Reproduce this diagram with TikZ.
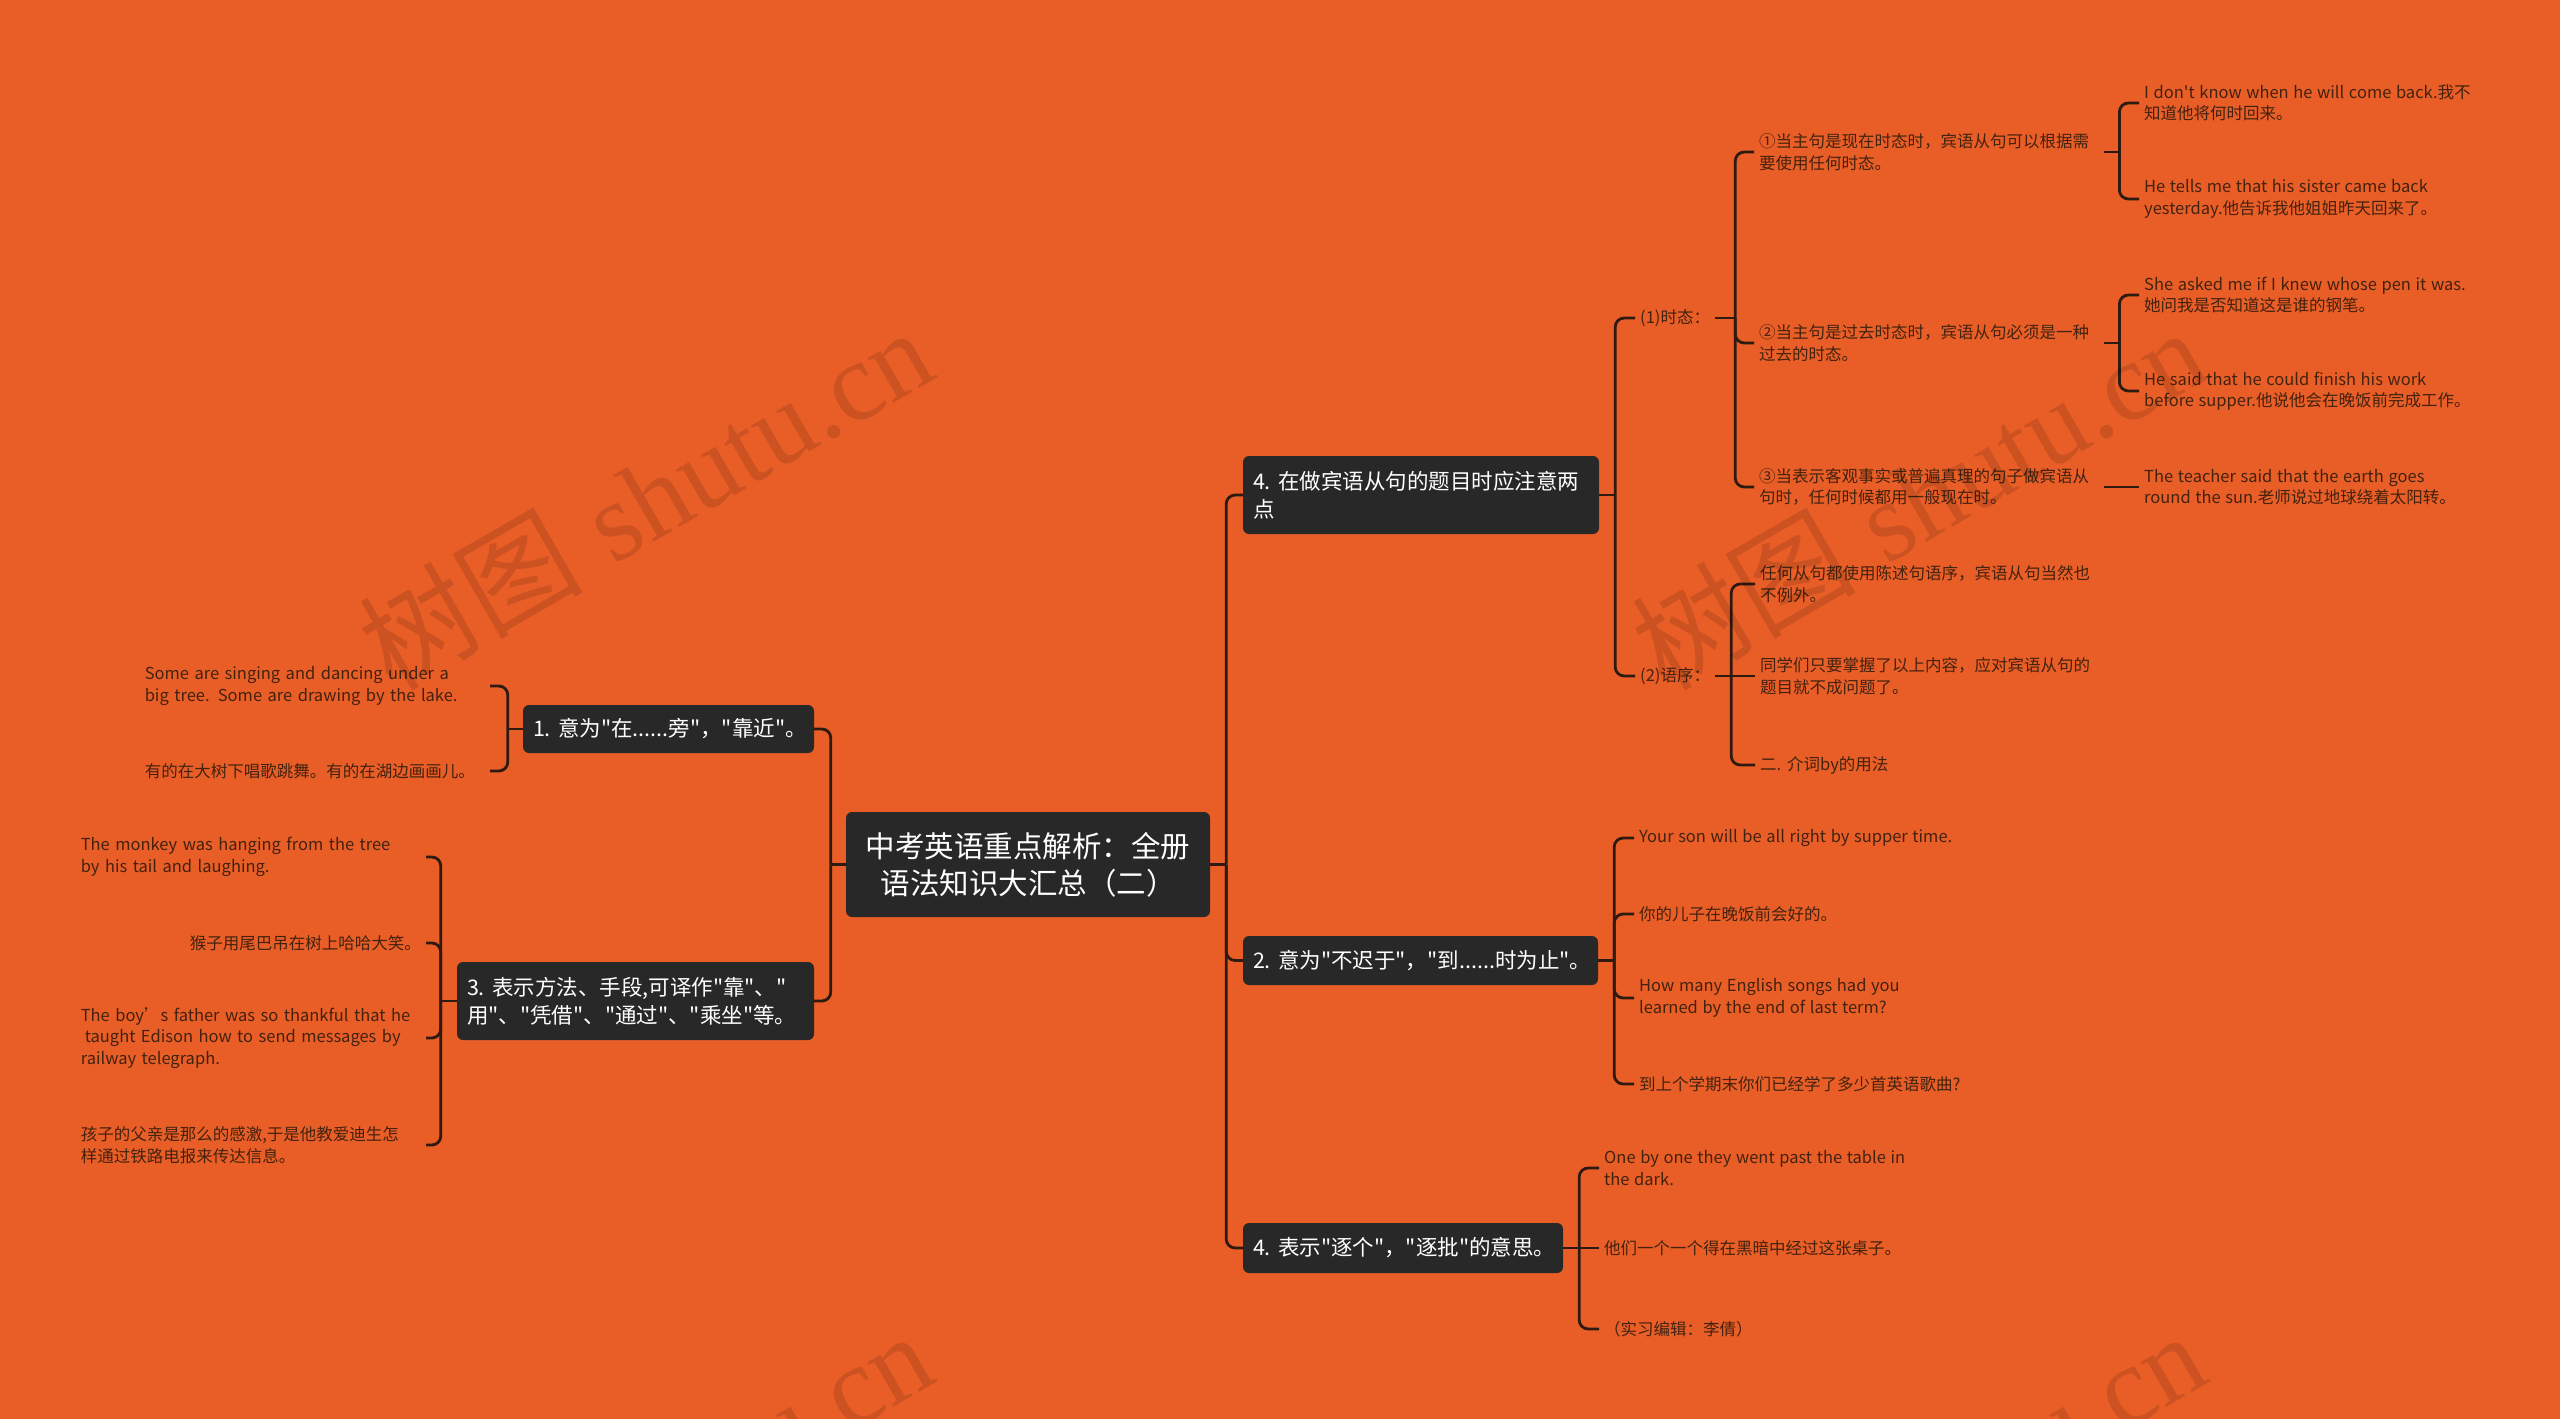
\documentclass[tikz,border=0pt]{standalone}
\usepackage{fontspec}
\setmainfont{Noto Sans CJK SC}[Ligatures=TeXOff, WordSpace=1.25]
\newfontfamily\wmlatin{Liberation Serif}
\usetikzlibrary{calc}
\definecolor{bgc}{HTML}{E95E27}
\definecolor{boxc}{HTML}{282828}
\definecolor{linec}{HTML}{2E1A10}
\definecolor{leaftext}{HTML}{43220F}
\newcommand\leaffnt{\fontsize{16.5pt}{21.5pt}\selectfont}
\newcommand\boxfnt{\fontsize{21.5pt}{28pt}\selectfont}
\newcommand\mytitlefnt{\fontsize{29.5pt}{37pt}\selectfont}
\newcommand\wmfnt{\fontsize{112pt}{112pt}\selectfont}
\begin{document}
\begin{tikzpicture}[x=1pt,y=-1pt,
  leaf/.style={font=\leaffnt, text=leaftext, inner xsep=5pt, inner ysep=2pt, align=left},
  leafR/.style={leaf, anchor=west},
  leafL/.style={leaf, anchor=east, text width=340pt},
  box/.style={fill=boxc, rounded corners=6pt, text=white, font=\boxfnt, inner xsep=10pt, inner ysep=0pt, align=left, anchor=center},
  conn/.style={draw=linec, line width=2.8pt},
  rc/.style={conn, rounded corners=9pt},
  wm/.style={rotate=30, font=\wmfnt, text=black, text opacity=0.12}]
\useasboundingbox (0,0) rectangle (2560,1419);
\clip (0,0) rectangle (2560,1419);
\fill[bgc] (0,0) rectangle (2560,1419);

% main boxes
\node[box, text width=344pt, align=center, minimum height=105pt, font=\mytitlefnt] (center) at (1028,864.5) {中考英语重点解析：全册\\语法知识大汇总（二）};
\node[box, text width=336pt, minimum height=78pt] (b4a) at (1421,495) {4.~在做宾语从句的题目时应注意两\\点};
\node[box, text width=335pt, minimum height=49pt] (b2) at (1420.5,960.5) {2.~意为"不迟于"，"到......时为止"。};
\node[box, text width=300pt, minimum height=50pt] (b4b) at (1403,1248) {4.~表示"逐个"，"逐批"的意思。};
\node[box, text width=271pt, minimum height=48pt] (b1) at (668.5,729) {1.~意为"在......旁"，"靠近"。};
\node[box, text width=337pt, minimum height=78pt] (b3) at (635.5,1001) {3.~表示方法、手段,可译作"靠"、"\\用"、"凭借"、"通过"、"乘坐"等。};

% right leaves
\node[leafR] (c1) at (1635,318) {(1)时态：};
\node[leafR] (c2) at (1635,676) {(2)语序：};
\node[leafR, text width=340pt] (c11) at (1754,152) {①当主句是现在时态时，宾语从句可以根据需\\要使用任何时态。};
\node[leafR, text width=340pt] (c12) at (1754,343) {②当主句是过去时态时，宾语从句必须是一种\\过去的时态。};
\node[leafR, text width=340pt] (c13) at (1754,487) {③当表示客观事实或普遍真理的句子做宾语从\\句时，任何时候都用一般现在时。};
\node[leafR] (c111) at (2139,103) {I don't know when he will come back.我不\\知道他将何时回来。};
\node[leafR] (c112) at (2139,199) {He tells me that his sister came back\\yesterday.他告诉我他姐姐昨天回来了。};
\node[leafR] (c121) at (2139,295) {She asked me if I knew whose pen it was.\\她问我是否知道这是谁的钢笔。};
\node[leafR] (c122) at (2139,391) {He said that he could finish his work\\before supper.他说他会在晚饭前完成工作。};
\node[leafR] (c131) at (2139,487) {The teacher said that the earth goes\\round the sun.老师说过地球绕着太阳转。};
\node[leafR] (c21) at (1755,584) {任何从句都使用陈述句语序，宾语从句当然也\\不例外。};
\node[leafR] (c22) at (1755,676) {同学们只要掌握了以上内容，应对宾语从句的\\题目就不成问题了。};
\node[leafR] (c23) at (1755,765) {二. 介词by的用法};
\node[leafR] (c31) at (1634,838) {Your son will be all right by supper time.};
\node[leafR] (c32) at (1634,914) {你的儿子在晚饭前会好的。};
\node[leafR] (c33) at (1634,998) {How many English songs had you\\learned by the end of last term?};
\node[leafR] (c34) at (1634,1084) {到上个学期末你们已经学了多少首英语歌曲?};
\node[leafR] (c41) at (1599,1168) {One by one they went past the table in\\the dark.};
\node[leafR] (c42) at (1599,1248) {他们一个一个得在黑暗中经过这张桌子。};
\node[leafR] (c43) at (1599,1329) {（实习编辑：李倩）};

% left leaves
\node[leafL] (l11) at (490,686) {Some are singing and dancing under a\\big tree. Some are drawing by the lake.};
\node[leafL] (l12) at (490,771) {有的在大树下唱歌跳舞。有的在湖边画画儿。};
\node[leafL] (l31) at (426,857) {The monkey was hanging from the tree\\by his tail and laughing.};
\node[leaf, anchor=east] (l32) at (426,943) {猴子用尾巴吊在树上哈哈大笑。};
\node[leafL] (l33) at (426,1038) {The boy’s father was so thankful that he\\\hspace*{4pt}taught Edison how to send messages by\\railway telegraph.};
\node[leafL] (l34) at (426,1145) {孩子的父亲是那么的感激,于是他教爱迪生怎\\样通过铁路电报来传达信息。};

% connectors: center right
\draw[conn] (center.east) -- ++(16,0) coordinate (kC);
\draw[rc] (kC) |- (b4a.west);
\draw[rc] (kC) |- (b2.west);
\draw[rc] (kC) |- (b4b.west);
% center left
\draw[conn] (center.west) -- ++(-15,0) coordinate (kCL);
\draw[rc] (kCL) |- (b1.east);
\draw[rc] (kCL) |- (b3.east);
% box 4a
\draw[conn] (b4a.east) -- ++(16,0) coordinate (k4a);
\draw[rc] (k4a) |- (c1.west);
\draw[rc] (k4a) |- (c2.west);
% (1)
\draw[conn] (c1.east) -- ++(20,0) coordinate (k1);
\draw[rc] (k1) |- (c11.west);
\draw[rc] (k1) |- (c12.west);
\draw[rc] (k1) |- (c13.west);
\draw[conn] (c11.east) -- ++(15,0) coordinate (k11);
\draw[rc] (k11) |- (c111.west);
\draw[rc] (k11) |- (c112.west);
\draw[conn] (c12.east) -- ++(15,0) coordinate (k12);
\draw[rc] (k12) |- (c121.west);
\draw[rc] (k12) |- (c122.west);
\draw[conn] (c13.east) -- (c131.west);
% (2)
\draw[conn] (c2.east) -- ++(16,0) coordinate (k2);
\draw[rc] (k2) |- (c21.west);
\draw[rc] (k2) -- (c22.west);
\draw[rc] (k2) |- (c23.west);
% box 2
\draw[conn] (b2.east) -- ++(16,0) coordinate (kb2);
\draw[rc] (kb2) |- (c31.west);
\draw[rc] (kb2) |- (c32.west);
\draw[rc] (kb2) |- (c33.west);
\draw[rc] (kb2) |- (c34.west);
% box 4b
\draw[conn] (b4b.east) -- ++(16,0) coordinate (kb4);
\draw[rc] (kb4) |- (c41.west);
\draw[conn] (kb4) -- (c42.west);
\draw[rc] (kb4) |- (c43.west);
% box 1
\draw[conn] (b1.west) -- ++(-15,0) coordinate (kb1);
\draw[rc] (kb1) |- (l11.east);
\draw[rc] (kb1) |- (l12.east);
% box 3
\draw[conn] (b3.west) -- ++(-16,0) coordinate (kb3);
\draw[rc] (kb3) |- (l31.east);
\draw[rc] (kb3) |- (l32.east);
\draw[rc] (kb3) |- (l33.east);
\draw[rc] (kb3) |- (l34.east);

% watermarks
\node[wm] (wm1) at (645,498) {树图 {\wmlatin shutu.cn}};
\node[wm] (wm2) at (1918,498) {树图 {\wmlatin shutu.cn}};
\node[wm] (wm3) at (645,1502) {树图 {\wmlatin shutu.cn}};
\node[wm] (wm4) at (1918,1502) {树图 {\wmlatin shutu.cn}};
\end{tikzpicture}
\end{document}
